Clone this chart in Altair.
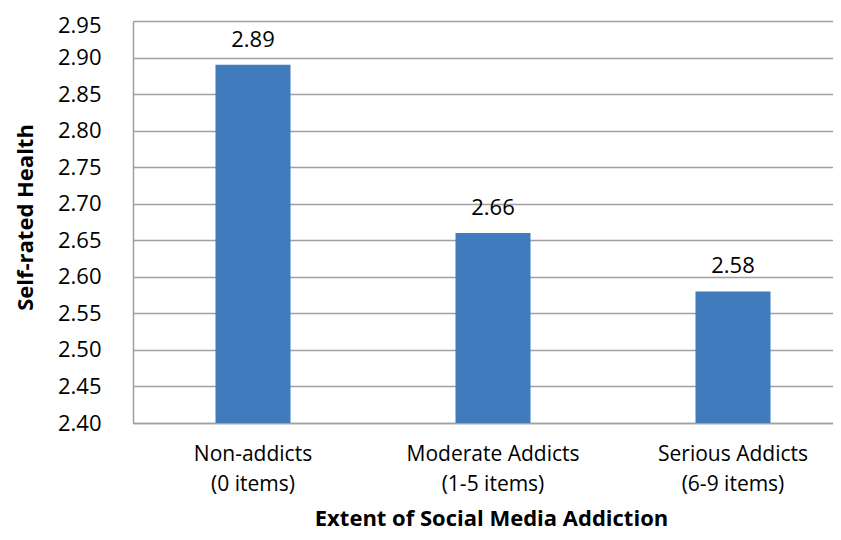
import altair as alt
import pandas as pd

categories = ["Non-addicts\n(0 items)", "Moderate Addicts\n(1-5 items)", "Serious Addicts\n(6-9 items)"]
values = [2.89, 2.66, 2.58]
y_ticks = [2.40, 2.45, 2.50, 2.55, 2.60, 2.65, 2.70, 2.75, 2.80, 2.85, 2.90, 2.95]

df = pd.DataFrame({"cat": categories, "val": values})

FONT = "Open Sans"
GRID = "#A0A0A0"

x = alt.X(
    "cat:N",
    sort=categories,
    scale=alt.Scale(range=[0, 720], paddingInner=0, paddingOuter=0),
    axis=alt.Axis(
        title="Extent of Social Media Addiction",
        labelAngle=0,
        labelExpr="split(datum.label, '\\n')",
        labelFont=FONT,
        labelFontSize=21,
        labelColor="#000000",
        labelLineHeight=30,
        labelPadding=20,
        labelOverlap=False,
        labelBound=False,
        ticks=False,
        domainColor=GRID,
        domainWidth=1.5,
        titleFont=FONT,
        titleFontSize=22,
        titleFontWeight="bold",
        titleColor="#000000",
        titleX=358,
        titleY=85,
        titleAlign="center",
        titleBaseline="top",
    ),
)

y = alt.Y(
    "val:Q",
    scale=alt.Scale(domain=[2.40, 2.95], zero=False, nice=False),
    axis=alt.Axis(
        title="Self-rated Health",
        values=y_ticks,
        format=".2f",
        labelFont=FONT,
        labelFontSize=22,
        labelColor="#000000",
        labelPadding=32,
        labelOffset={"condition": {"test": "datum.value > 2.93", "value": 4}, "value": 0},
        labelOverlap=False,
        labelBound=False,
        ticks=False,
        grid=True,
        gridColor=GRID,
        gridWidth=1.5,
        domainColor=GRID,
        domainWidth=1.5,
        titleFont=FONT,
        titleFontSize=22,
        titleFontWeight="bold",
        titleColor="#000000",
        titleX=-108,
        titleY=196,
        titleAngle=270,
        titleAlign="center",
        titleBaseline="middle",
    ),
)

base = alt.Chart(df).encode(x=x, y=y)

bars = base.mark_bar(color="#407BBE", width=75, clip=True)

texts = base.mark_text(
    font=FONT, fontSize=22, color="#000000", baseline="alphabetic", dy=-18
).encode(text=alt.Text("val:Q", format=".2f"))

chart = (
    alt.layer(bars, texts)
    .properties(
        width=700,
        height=402,
        autosize=alt.AutoSizeParams(type="none"),
        padding={"left": 125, "top": 13, "right": 0, "bottom": 109},
    )
    .configure_view(stroke=None)
    .configure(background="white")
)

chart.save("out.html", embed_options={"renderer": "svg", "actions": False})
